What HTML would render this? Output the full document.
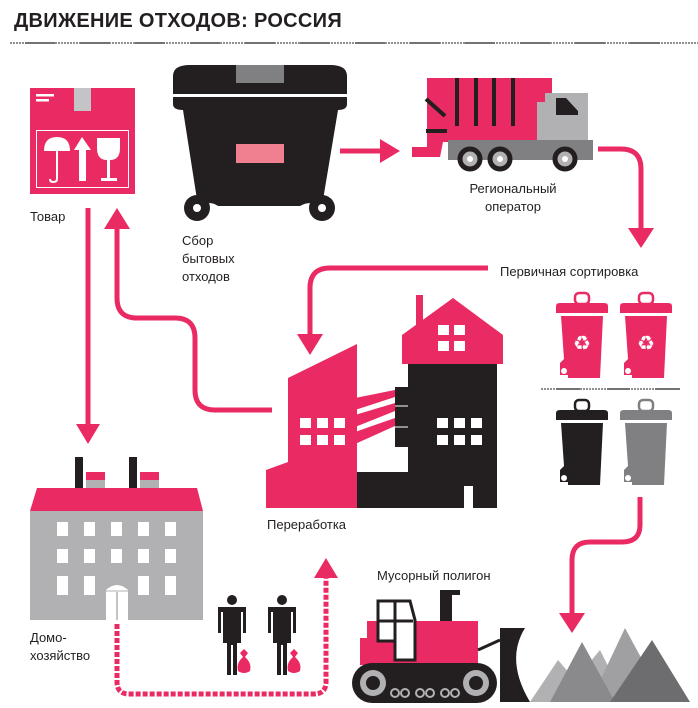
<!DOCTYPE html>
<html><head><meta charset="utf-8"><style>
body{margin:0;background:#fff;}
svg{display:block;}
text{font-family:"Liberation Sans",sans-serif;fill:#231f20;}
</style></head><body>
<svg width="698" height="708" viewBox="0 0 698 708" xmlns="http://www.w3.org/2000/svg">
<defs>
<g id="bin">
  <rect x="21" y="0" width="14" height="11" rx="4" fill="none" stroke-width="2.5" stroke="currentColor"/>
  <path d="M2,13 Q2,10 6,10 H50 Q54,10 54,13 V20 H2Z" fill="currentColor"/>
  <path d="M7,23 H49 L46,85 H14 L14,82 H6 V70 L10,66Z" fill="currentColor"/>
  <circle cx="10" cy="78" r="3" fill="#fff"/>
</g>
<g id="person">
  <circle cx="14" cy="5" r="5" fill="#231f20"/>
  <path d="M0,12 H28 V38 H25 V17 H23 V48 H19 V80 H15 V50 H13 V80 H9 V48 H5 V17 H3 V38 H0Z" fill="#231f20"/>
  <path d="M22,58 L26,54 L30,58 L27,62 Q34,68 32,76 Q26,80 20,76 Q18,68 25,62Z" fill="#ea2a63"/>
</g>
</defs>

<!-- Title -->
<text x="14" y="27" font-size="20" font-weight="bold" style="letter-spacing:0.3px">ДВИЖЕНИЕ ОТХОДОВ: РОССИЯ</text>
<line x1="10" y1="43" x2="698" y2="43" stroke="#231f20" stroke-width="1" stroke-dasharray="2,1"/>
<g stroke="#231f20" stroke-width="1.3">
<line x1="25" y1="43" x2="55" y2="43"/><line x1="80" y1="43" x2="110" y2="43"/><line x1="135" y1="43" x2="165" y2="43"/><line x1="190" y1="43" x2="220" y2="43"/><line x1="245" y1="43" x2="275" y2="43"/><line x1="300" y1="43" x2="330" y2="43"/><line x1="355" y1="43" x2="385" y2="43"/><line x1="410" y1="43" x2="440" y2="43"/><line x1="465" y1="43" x2="495" y2="43"/><line x1="520" y1="43" x2="550" y2="43"/><line x1="575" y1="43" x2="605" y2="43"/><line x1="630" y1="43" x2="660" y2="43"/>
</g>

<!-- Box -->
<rect x="30" y="88" width="105" height="106" fill="#ea2a63"/>
<rect x="74" y="88" width="17" height="23" fill="#c4c4c6"/>
<rect x="36" y="94" width="18" height="2.5" fill="#fff"/><rect x="36" y="99" width="13" height="2.5" fill="#fff"/>
<rect x="36.5" y="130.5" width="92" height="57" fill="none" stroke="#fff" stroke-width="1"/>
<path d="M44,151 Q44,137 57,137 Q70,137 70,151Z" fill="#fff"/>
<path d="M57,150 V179 Q57,182 53,182 Q50,182 50,179" fill="none" stroke="#fff" stroke-width="2"/>
<path d="M74,150 L82,137 L91,150 H86 V181 H79 V150Z" fill="#fff"/>
<path d="M97,138 H120 V148 Q120,160 110,160 V178 H117 V181 H101 V178 H107 V160 Q97,160 97,148Z" fill="#fff"/>
<text x="30" y="221" font-size="13">Товар</text>

<!-- arrows from box -->
<line x1="88" y1="208" x2="88" y2="425" stroke="#ea2a63" stroke-width="5"/>
<path d="M76,424 H100 L88,444Z" fill="#ea2a63"/>
<path d="M104,229 L117,208 L130,229Z" fill="#ea2a63"/>
<path d="M117,228 V298 Q117,318 137,318 H175 Q195,318 195,338 V390 Q195,410 215,410 H272" fill="none" stroke="#ea2a63" stroke-width="5"/>

<!-- Garbage container -->
<path d="M173,76 Q173,65 190,65 H330 Q347,65 347,76 V94 H173Z" fill="#231f20"/>
<rect x="236" y="65" width="48" height="18" fill="#808082"/>
<path d="M173,97 H347 V104 Q347,110 338,110 L322,206 Q310,200 300,206 H218 Q210,200 198,206 L183,110 Q173,110 173,104Z" fill="#231f20"/>
<rect x="236" y="144" width="48" height="19" fill="#f08090"/>
<circle cx="197" cy="208" r="13" fill="#231f20"/><circle cx="197" cy="208" r="4" fill="#fff"/>
<circle cx="322" cy="208" r="13" fill="#231f20"/><circle cx="322" cy="208" r="4" fill="#fff"/>
<text font-size="13"><tspan x="182" y="245">Сбор</tspan><tspan x="182" y="263">бытовых</tspan><tspan x="182" y="281">отходов</tspan></text>

<!-- arrow to truck -->
<line x1="340" y1="151" x2="385" y2="151" stroke="#ea2a63" stroke-width="5"/>
<path d="M380,139 L400,151 L380,163Z" fill="#ea2a63"/>

<!-- Truck -->
<path d="M427,78 L441,78 L444,78 H552 V142 H443 L440,157 H412 V147 H427Z" fill="#ea2a63"/>
<rect x="545" y="93" width="43" height="49" fill="#b1b1b3"/>
<rect x="537" y="102" width="10" height="40" fill="#b1b1b3"/>
<path d="M556,98 H566 L578,111 V115 H556Z" fill="#231f20"/>
<rect x="448" y="140" width="145" height="20" fill="#808082"/>
<g stroke="#231f20" stroke-width="4"><line x1="457" y1="78" x2="457" y2="126"/><line x1="476" y1="78" x2="476" y2="126"/><line x1="494" y1="78" x2="494" y2="126"/><line x1="513" y1="78" x2="513" y2="126"/>
<line x1="426" y1="99" x2="445" y2="116"/><line x1="426" y1="131" x2="447" y2="131"/></g>
<g fill="#b1b1b3" stroke="#231f20" stroke-width="5"><circle cx="470" cy="159" r="10"/><circle cx="500" cy="159" r="10"/><circle cx="565" cy="159" r="10"/></g>
<g fill="#fff"><circle cx="470" cy="159" r="3"/><circle cx="500" cy="159" r="3"/><circle cx="565" cy="159" r="3"/></g>
<text font-size="13" text-anchor="middle"><tspan x="513" y="193">Региональный</tspan><tspan x="513" y="211">оператор</tspan></text>

<!-- arrow truck to sorting -->
<path d="M598,149 H621 Q641,149 641,169 V230" fill="none" stroke="#ea2a63" stroke-width="5"/>
<path d="M628,228 H654 L641,248Z" fill="#ea2a63"/>
<text x="500" y="276" font-size="13">Первичная сортировка</text>
<path d="M488,268 H330 Q310,268 310,288 V335" fill="none" stroke="#ea2a63" stroke-width="5"/>
<path d="M297,334 H323 L310,355Z" fill="#ea2a63"/>

<!-- bins -->
<use href="#bin" x="554" y="293" style="color:#ea2a63"/>
<use href="#bin" x="618" y="293" style="color:#ea2a63"/>
<text x="582" y="350" font-size="20" fill="#fff" text-anchor="middle" style="fill:#fff">♻</text>
<text x="646" y="350" font-size="20" fill="#fff" text-anchor="middle" style="fill:#fff">♻</text>
<line x1="541" y1="389" x2="680" y2="389" stroke="#231f20" stroke-width="1" stroke-dasharray="2,1"/>
<g stroke="#231f20" stroke-width="1.3"><line x1="556" y1="389" x2="580" y2="389"/><line x1="607" y1="389" x2="630" y2="389"/><line x1="655" y1="389" x2="680" y2="389"/></g>
<use href="#bin" x="554" y="400" style="color:#231f20"/>
<use href="#bin" x="618" y="400" style="color:#808082"/>

<!-- arrow to landfill -->
<path d="M640,497 V525 Q640,542 622,542 H590 Q572,542 572,560 V615" fill="none" stroke="#ea2a63" stroke-width="5"/>
<path d="M559,613 H585 L572,633Z" fill="#ea2a63"/>

<!-- Factory -->
<path d="M402,335 L453,298 L503,335 V364 H402Z" fill="#ea2a63"/>
<rect x="416" y="295" width="7" height="30" fill="#ea2a63"/>
<g fill="#fff"><rect x="438" y="325" width="11" height="10"/><rect x="454" y="325" width="11" height="10"/><rect x="438" y="341" width="11" height="10"/><rect x="454" y="341" width="11" height="10"/></g>
<rect x="408" y="364" width="89" height="144" fill="#231f20"/>
<rect x="355" y="472" width="55" height="36" fill="#231f20"/>
<rect x="395" y="387" width="15" height="60" fill="#231f20"/>
<line x1="395" y1="406" x2="408" y2="406" stroke="#fff" stroke-width="1"/>
<line x1="395" y1="427" x2="408" y2="427" stroke="#fff" stroke-width="1"/>
<rect x="464" y="486" width="9" height="22" fill="#fff"/>
<g fill="#fff"><rect x="437" y="418" width="11" height="10"/><rect x="454" y="418" width="11" height="10"/><rect x="471" y="418" width="11" height="10"/><rect x="437" y="435" width="11" height="10"/><rect x="454" y="435" width="11" height="10"/><rect x="471" y="435" width="11" height="10"/></g>
<path d="M288,378 L357,344 V508 H266 V470 L288,462Z" fill="#ea2a63"/>
<g fill="#ea2a63"><path d="M355,398 L395,390 V397 L355,410Z"/><path d="M355,415 L395,403 V411 L355,427Z"/><path d="M355,432 L395,418 V426 L355,444Z"/></g>
<g fill="#fff"><rect x="300" y="418" width="11" height="10"/><rect x="317" y="418" width="11" height="10"/><rect x="334" y="418" width="11" height="10"/><rect x="300" y="435" width="11" height="10"/><rect x="317" y="435" width="11" height="10"/><rect x="334" y="435" width="11" height="10"/></g>
<text x="267" y="529" font-size="13">Переработка</text>

<!-- Household -->
<rect x="75" y="457" width="8" height="42" fill="#231f20"/>
<rect x="129" y="457" width="8" height="42" fill="#231f20"/>
<rect x="86" y="472" width="19" height="27" fill="#b1b1b3"/><rect x="86" y="472" width="19" height="8" fill="#ea2a63"/><rect x="92" y="489" width="7" height="10" fill="#fff"/>
<rect x="140" y="472" width="19" height="27" fill="#b1b1b3"/><rect x="140" y="472" width="19" height="8" fill="#ea2a63"/><rect x="146" y="489" width="7" height="10" fill="#fff"/>
<path d="M37,488 H197 L203,511 H30Z" fill="#ea2a63"/>
<rect x="30" y="511" width="173" height="109" fill="#b1b1b3"/>
<g fill="#fff">
<rect x="57" y="522" width="11" height="14"/><rect x="84" y="522" width="11" height="14"/><rect x="111" y="522" width="11" height="14"/><rect x="138" y="522" width="11" height="14"/><rect x="165" y="522" width="11" height="14"/>
<rect x="57" y="549" width="11" height="14"/><rect x="84" y="549" width="11" height="14"/><rect x="111" y="549" width="11" height="14"/><rect x="138" y="549" width="11" height="14"/><rect x="165" y="549" width="11" height="14"/>
<rect x="57" y="576" width="11" height="19"/><rect x="84" y="576" width="11" height="19"/><rect x="138" y="576" width="11" height="19"/><rect x="165" y="576" width="11" height="19"/>
<path d="M106,590 Q117,580 128,590 V620 H106Z"/>
</g>
<line x1="117" y1="592" x2="117" y2="620" stroke="#b1b1b3" stroke-width="1.5"/>
<line x1="106" y1="591" x2="128" y2="591" stroke="#b1b1b3" stroke-width="1"/>
<text font-size="13"><tspan x="30" y="642">Домо-</tspan><tspan x="30" y="660">хозяйство</tspan></text>

<!-- dotted path -->
<path d="M117,624 V682 Q117,694 129,694 H314 Q326,694 326,682 V578" fill="none" stroke="#ea2a63" stroke-width="5" stroke-dasharray="5,2"/>
<path d="M314,578 L326,558 L338,578Z" fill="#ea2a63"/>

<use href="#person" x="218" y="595"/>
<use href="#person" x="268" y="595"/>

<!-- landfill -->
<text x="377" y="580" font-size="13">Мусорный полигон</text>
<rect x="440" y="590" width="12" height="32" fill="#231f20"/>
<rect x="440" y="590" width="20" height="5" fill="#231f20"/>
<rect x="367" y="621" width="111" height="44" fill="#ea2a63"/>
<rect x="360" y="638" width="15" height="27" fill="#ea2a63"/>
<path d="M378,601 H410 L415,620 V660 H395 V641 H378Z" fill="#fff" stroke="#231f20" stroke-width="3"/>
<line x1="395" y1="601" x2="395" y2="641" stroke="#231f20" stroke-width="3"/>
<line x1="378" y1="621" x2="413" y2="621" stroke="#231f20" stroke-width="3"/>
<path d="M478,650 L500,640" stroke="#231f20" stroke-width="3"/>
<path d="M500,628 H525 Q505,660 530,702 H500Z" fill="#231f20"/>
<rect x="352" y="663" width="145" height="40" rx="20" fill="#231f20"/>
<circle cx="373" cy="683" r="13" fill="#b1b1b3"/><circle cx="373" cy="683" r="7" fill="#231f20"/>
<circle cx="476" cy="683" r="13" fill="#b1b1b3"/><circle cx="476" cy="683" r="7" fill="#231f20"/>
<g fill="none" stroke="#b1b1b3" stroke-width="2"><circle cx="395" cy="693" r="4"/><circle cx="405" cy="693" r="4"/><circle cx="420" cy="693" r="4"/><circle cx="430" cy="693" r="4"/><circle cx="445" cy="693" r="4"/><circle cx="455" cy="693" r="4"/></g>
<path d="M530,702 L558,660 L575,680 L600,650 L620,690 L630,702Z" fill="#b1b1b3"/>
<path d="M590,702 L625,628 L665,702Z" fill="#a0a0a2"/>
<path d="M550,702 L582,642 L615,702Z" fill="#8a8a8c"/>
<path d="M610,702 L652,640 L690,702Z" fill="#6d6d6f"/>
</svg>
</body></html>
